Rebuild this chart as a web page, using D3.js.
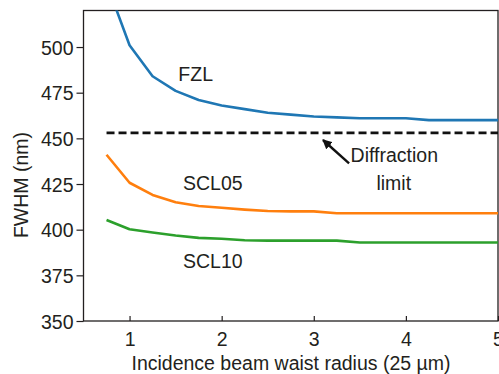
<!DOCTYPE html>
<html><head><meta charset="utf-8">
<script src="https://cdn.jsdelivr.net/npm/d3@7"></script>
<style>
html,body{margin:0;padding:0;background:#fff;}
svg{display:block;}
text{font-family:"Liberation Sans",Arial,sans-serif;fill:#231f20;}
</style></head>
<body><svg id="c" width="499" height="374"></svg>
<script>
const xValues = [0.75,1,1.25,1.5,1.75,2,2.25,2.5,2.75,3,3.25,3.5,3.75,4,4.25,4.5,4.75,5];
const fzl   = [535,501,484,476,471,468,466,464,463,462,461.5,461,461,461,460,460,460,460];
const scl05 = [441,425.7,419,415,413,412,411,410.2,410,410,409,409,409,409,409,409,409,409];
const scl10 = [405.3,400.2,398.5,396.8,395.5,395,394.2,394,394,394,394,393,393,393,393,393,393,393];
const seriesNames = ["FZL","SCL05","SCL10"];
const seriesColors = ["#1f77b4","#ff7f0e","#2ca02c"];
const diffractionLimit = 453;
const xTicks = [1,2,3,4,5];
const yTicks = [350,375,400,425,450,475,500];

const FS = 19.5;
const svg = d3.select("#c");
const x = d3.scaleLinear().domain([0.5,5]).range([83.5,498]);
const y = d3.scaleLinear().domain([350,520]).range([321,10.5]);
const ink = "#231f20";

svg.append("clipPath").attr("id","clip").append("rect")
  .attr("x",x(0.5)).attr("y",y(520)).attr("width",x(5)-x(0.5)).attr("height",y(350)-y(520));

// frame
svg.append("rect").attr("x",x(0.5)).attr("y",y(520)).attr("width",x(5)-x(0.5)).attr("height",y(350)-y(520))
  .attr("fill","none").attr("stroke",ink).attr("stroke-width",1.3);

// x axis
const xa = svg.append("g").attr("transform",`translate(0,${y(350)})`)
  .call(d3.axisBottom(x).tickValues(xTicks).tickSize(-5).tickPadding(11).tickFormat(d3.format("d")));
xa.select(".domain").remove();
xa.selectAll("line").attr("stroke",ink).attr("stroke-width",1.2);
xa.selectAll("text").attr("font-size",FS).attr("fill",ink).style("font-family","Liberation Sans, Arial, sans-serif");

// y axis
const ya = svg.append("g").attr("transform",`translate(${x(0.5)},0)`)
  .call(d3.axisLeft(y).tickValues(yTicks).tickSize(7).tickPadding(3).tickFormat(d3.format("d")));
ya.select(".domain").remove();
ya.selectAll("line").attr("stroke",ink).attr("stroke-width",1.2);
ya.selectAll("text").attr("font-size",FS).attr("fill",ink).attr("dy","0.36em").style("font-family","Liberation Sans, Arial, sans-serif");

// lines
const line = d3.line().x((d,i)=>x(xValues[i])).y(d=>y(d));
const g = svg.append("g").attr("clip-path","url(#clip)");
[fzl,scl05,scl10].forEach((s,i)=>{
  g.append("path").datum(s).attr("d",line).attr("fill","none")
    .attr("stroke",seriesColors[i]).attr("stroke-width",2.6).attr("stroke-linejoin","round");
});

// diffraction limit
g.append("line").attr("x1",x(0.75)).attr("x2",x(5)).attr("y1",y(diffractionLimit)).attr("y2",y(diffractionLimit))
  .attr("stroke","#111").attr("stroke-width",2.8).attr("stroke-dasharray","8,4");

// labels
const lab = [{t:"FZL",x:1.53,y:481.6},{t:"SCL05",x:1.58,y:421.7},{t:"SCL10",x:1.58,y:378.9}];
svg.selectAll(".lab").data(lab).enter().append("text").attr("class","lab")
  .attr("x",d=>x(d.x)).attr("y",d=>y(d.y)).attr("font-size",FS).text(d=>d.t);

// annotation
svg.append("defs").append("marker").attr("id","ah").attr("viewBox","0 0 10 10").attr("refX",9).attr("refY",5)
  .attr("markerWidth",4).attr("markerHeight",4).attr("orient","auto")
  .append("path").attr("d","M0,0L10,5L0,10z").attr("fill","#111");
svg.append("line").attr("x1",x(3.383)).attr("y1",y(436.3)).attr("x2",x(3.10)).attr("y2",y(449.1))
  .attr("stroke","#111").attr("stroke-width",2.4).attr("marker-end","url(#ah)");
svg.append("text").attr("x",x(3.40)).attr("y",y(437.2)).attr("font-size",FS).text("Diffraction");
svg.append("text").attr("x",x(3.868)).attr("y",y(421.7)).attr("font-size",FS).attr("text-anchor","middle").text("limit");

// axis titles
svg.append("text").attr("x",291).attr("y",370).attr("text-anchor","middle").attr("font-size",FS)
  .text("Incidence beam waist radius (25 µm)");
svg.append("text").attr("transform","translate(28,185) rotate(-90)").attr("text-anchor","middle").attr("font-size",FS)
  .text("FWHM (nm)");
</script></body></html>
